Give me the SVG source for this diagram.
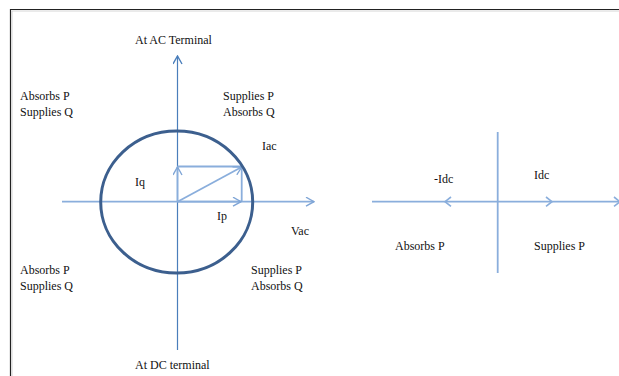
<svg xmlns="http://www.w3.org/2000/svg" width="619" height="376" viewBox="0 0 619 376">
<defs>
<style>
.ax{stroke:#4A7EBB;stroke-width:1.2;fill:none}
.lt{stroke:#8AAEDC;stroke-width:1.8;fill:none}
.chev{stroke:#8AAEDC;stroke-width:1.6;fill:none}
</style>
<marker id="ah" viewBox="0 0 10 10" refX="9" refY="5" markerWidth="10" markerHeight="10" markerUnits="userSpaceOnUse" orient="auto">
<path d="M1,0.5 L9,5 L1,9.5" fill="none" stroke="#7FA5D6" stroke-width="1.4"/>
</marker>
<marker id="ahd" viewBox="0 0 10 10" refX="9" refY="5" markerWidth="10" markerHeight="10" markerUnits="userSpaceOnUse" orient="auto">
<path d="M1,0.5 L9,5 L1,9.5" fill="none" stroke="#4A7EBB" stroke-width="1.4"/>
</marker>
</defs>
<rect width="619" height="376" fill="#fff"/>
<path d="M10.5,376 V9.5 H619" fill="none" stroke="#222" stroke-width="1.2"/>
<path d="M12,376 V11 H619" fill="none" stroke="#ccc" stroke-width="0.8"/>

<g id="connectors">
<line class="ax" x1="177.5" y1="350" x2="177.5" y2="56" marker-end="url(#ahd)"/>
<line class="lt" x1="62" y1="201.7" x2="314" y2="201.7" marker-end="url(#ah)"/>
<line class="lt" x1="177.5" y1="201.7" x2="177.5" y2="167" marker-end="url(#ah)"/>
<line class="lt" x1="177.5" y1="166.5" x2="241.7" y2="166.5"/>
<line class="lt" x1="177.5" y1="201.7" x2="241.7" y2="167" marker-end="url(#ah)"/>
<line class="lt" x1="241.7" y1="166.5" x2="241.7" y2="201.7"/>
<line class="lt" x1="177.5" y1="201.7" x2="241" y2="201.7" marker-end="url(#ah)"/>
<line class="lt" x1="372" y1="201.7" x2="619" y2="201.7"/>
<line class="lt" x1="497.7" y1="132" x2="497.7" y2="273"/>
<path class="chev" d="M451,197 L445,201.7 L451,206.4"/>
<path class="chev" d="M546,197 L552,201.7 L546,206.4"/>
<path class="chev" d="M614,197 L620,201.7 L614,206.4"/>
</g>

<g id="circle">
<ellipse cx="176.7" cy="202" rx="76" ry="71" fill="none" stroke="#3C5F8E" stroke-width="3"/>
</g>

<g font-family="'Liberation Serif', 'Times New Roman', 'DejaVu Serif', serif" font-size="12" fill="#111">
<g id="labels-ac">
<text x="135" y="44">At AC Terminal</text>
<text x="135" y="369">At DC terminal</text>
<text x="20" y="100">Absorbs P</text>
<text x="20" y="116">Supplies Q</text>
<text x="223" y="100">Supplies P</text>
<text x="223" y="116">Absorbs Q</text>
<text x="20" y="274">Absorbs P</text>
<text x="20" y="290">Supplies Q</text>
<text x="251" y="274">Supplies P</text>
<text x="251" y="290">Absorbs Q</text>
<text x="262" y="150">Iac</text>
<text x="135" y="186">Iq</text>
<text x="217" y="220">Ip</text>
<text x="291" y="235">Vac</text>
</g>
<g id="labels-dc">
<text x="434" y="183">-Idc</text>
<text x="534" y="179">Idc</text>
<text x="395" y="250">Absorbs P</text>
<text x="534" y="250">Supplies P</text>
</g>
</g>
</svg>
